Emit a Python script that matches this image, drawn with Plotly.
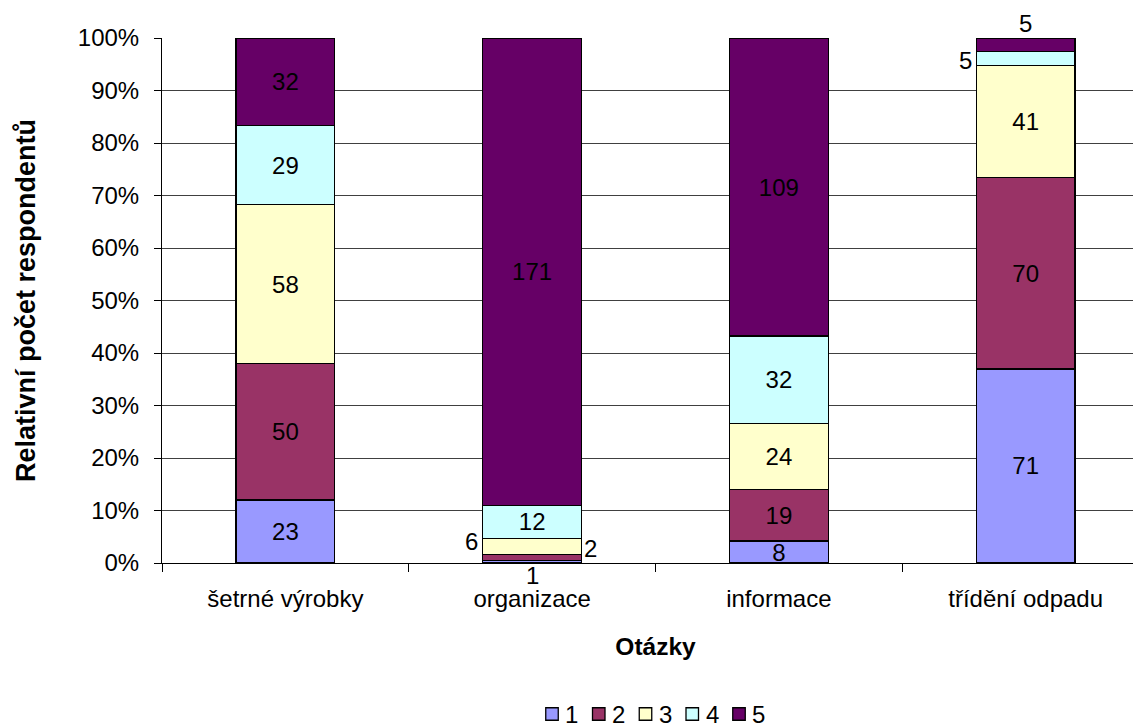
import plotly.graph_objects as go

categories = ["šetrné výrobky", "organizace", "informace", "třídění odpadu"]
series_names = ["1", "2", "3", "4", "5"]
s1 = [23, 1, 8, 71]
s2 = [50, 2, 19, 70]
s3 = [58, 6, 24, 41]
s4 = [29, 12, 32, 5]
s5 = [32, 171, 109, 5]
colors = ["#9999FF", "#993366", "#FFFFCC", "#CCFFFF", "#660066"]

series = [s1, s2, s3, s4, s5]
totals = [sum(v) for v in zip(*series)]

# labels drawn outside the bar (series index, category index) -> (position, yshift)
outside = {(0, 1): ("below", 3), (1, 1): ("right", 9), (2, 1): ("left", 5),
           (3, 3): ("left", -2), (4, 3): ("above", -1)}

font = "Liberation Sans, Arial, sans-serif"
FS = 24
W, H = 1141, 724
ML, MR, MT, MB = 154, 0, 30, 169
PW, PH = W - ML - MR, H - MT - MB

fig = go.Figure()
for si, (name, vals) in enumerate(zip(series_names, series)):
    texts = ["" if (si, ci) in outside else str(v) for ci, v in enumerate(vals)]
    fig.add_trace(go.Bar(
        name=name, x=categories, y=vals, text=texts,
        textposition="inside", insidetextanchor="middle", textangle=0,
        constraintext="none",
        textfont=dict(family=font, size=FS, color="black"),
        marker=dict(color=colors[si], line=dict(color="black", width=1.3)),
        width=0.40, hoverinfo="skip", showlegend=False,
    ))

annotations = []
for (si, ci), (pos, ys) in outside.items():
    before = sum(series[k][ci] for k in range(si))
    v = series[si][ci]
    mid = (before + v / 2) / totals[ci] * 100
    a = dict(x=categories[ci], text=str(v), showarrow=False,
             font=dict(family=font, size=FS, color="black"), yshift=ys)
    if pos == "below":
        a.update(y=0, yanchor="top")
    elif pos == "above":
        a.update(y=100, yanchor="bottom")
    elif pos == "left":
        a.update(y=mid, xanchor="right", xshift=-52, yanchor="middle")
    elif pos == "right":
        a.update(y=mid, xanchor="left", xshift=50, yanchor="middle")
    annotations.append(a)

# custom legend (small squares with black border, tight spacing), in figure pixels
shapes = []
leg_x0, leg_dx, leg_y, sq = 544, 46.75, 706, 12.5
px = lambda x: (x - ML) / PW
py = lambda y: (H - MB - y) / PH
for i, name in enumerate(series_names):
    cx = leg_x0 + i * leg_dx
    shapes.append(dict(type="rect", xref="paper", yref="paper",
                       x0=px(cx - sq / 2), x1=px(cx + sq / 2),
                       y0=py(leg_y + sq / 2), y1=py(leg_y - sq / 2),
                       fillcolor=colors[i], line=dict(color="black", width=1.3)))
    annotations.append(dict(xref="paper", yref="paper", x=px(cx + sq / 2 + 5), y=py(leg_y),
                            xanchor="left", yanchor="middle", text=name, showarrow=False,
                            font=dict(family=font, size=FS, color="black")))

fig.update_layout(
    barmode="stack", barnorm="percent",
    width=W, height=H,
    margin=dict(l=ML, r=MR, t=MT, b=MB, autoexpand=False),
    paper_bgcolor="white", plot_bgcolor="white",
    font=dict(family=font, size=FS, color="black"),
    showlegend=False,
    annotations=annotations,
    shapes=shapes,
    xaxis=dict(
        title=dict(text="<b>Otázky</b>", font=dict(family=font, size=24.5), standoff=27),
        showline=True, linecolor="black", linewidth=1,
        ticks="outside", tickson="boundaries", ticklen=8, tickcolor="black",
        ticklabelstandoff=14, showgrid=False,
        tickfont=dict(family=font, size=FS),
    ),
    yaxis=dict(
        title=dict(text="<b>Relativní počet respondentů</b>", font=dict(family=font, size=27), standoff=34),
        range=[0, 100], dtick=10, ticksuffix="%",
        showline=True, linecolor="black", linewidth=1,
        ticks="outside", ticklen=7, tickcolor="black", ticklabelstandoff=10,
        showgrid=True, gridcolor="#404040", gridwidth=1, zeroline=False,
        tickfont=dict(family=font, size=FS),
    ),
)
fig.write_html("out.html")
